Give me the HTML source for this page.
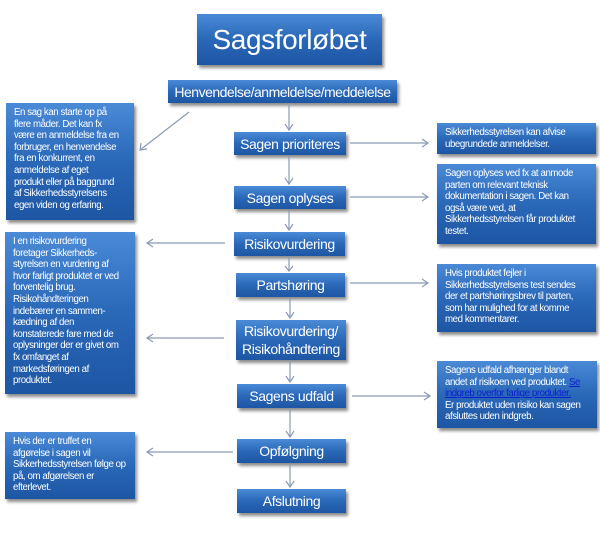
<!DOCTYPE html>
<html><head><meta charset="utf-8"><style>
body{margin:0;width:600px;height:533px;background:#fff;position:relative;overflow:hidden;font-family:"Liberation Sans",sans-serif;}
.b{position:absolute;background:linear-gradient(#4a8ad6,#2a68b8 50%,#1d56a3);color:#fff;box-shadow:2px 3px 3px rgba(0,0,0,.45);box-sizing:border-box;}
.c{display:flex;align-items:center;justify-content:center;text-align:center;font-size:14px;letter-spacing:-0.4px;white-space:nowrap;}
.t{font-size:9.7px;line-height:11.6px;padding:4px 2px 0 8px;letter-spacing:-0.42px;white-space:nowrap;}
a{color:#0b1fd0;text-decoration:underline;}
svg{position:absolute;left:0;top:0;}
</style></head><body>
<div class="b c" style="left:197px;top:14px;width:185px;height:51px;font-size:28px;">Sagsforløbet</div>
<div class="b c" style="left:168px;top:80px;width:229px;height:23px;font-size:14px;letter-spacing:-0.5px;">Henvendelse/anmeldelse/meddelelse</div>
<div class="b c" style="left:234px;top:132px;width:112px;height:23px;">Sagen prioriteres</div>
<div class="b c" style="left:234px;top:186px;width:112px;height:23px;">Sagen oplyses</div>
<div class="b c" style="left:234px;top:232px;width:111px;height:24px;">Risikovurdering</div>
<div class="b c" style="left:236px;top:273px;width:109px;height:24px;">Partshøring</div>
<div class="b c" style="left:236px;top:320px;width:110px;height:40px;line-height:18px;">Risikovurdering/<br>Risikohåndtering</div>
<div class="b c" style="left:237px;top:384px;width:109px;height:24px;">Sagens udfald</div>
<div class="b c" style="left:237px;top:439px;width:109px;height:24px;">Opfølgning</div>
<div class="b c" style="left:237px;top:489px;width:109px;height:24px;">Afslutning</div>

<div class="b t" style="left:6px;top:103px;width:128px;height:117px;">En sag kan starte op på<br>flere måder.  Det kan fx<br>være en anmeldelse fra en<br>forbruger, en henvendelse<br>fra en konkurrent, en<br>anmeldelse af eget<br>produkt eller på baggrund<br>af Sikkerhedsstyrelsens<br>egen viden og erfaring.</div>
<div class="b t" style="left:5px;top:232px;width:130px;height:162px;">I en risikovurdering<br>foretager Sikkerheds-<br>styrelsen en vurdering af<br>hvor farligt produktet er ved<br>forventelig brug.<br>Risikohåndteringen<br>indebærer en sammen-<br>kædning af den<br>konstaterede fare med de<br>oplysninger der er givet om<br>fx omfanget af<br>markedsføringen af<br>produktet.</div>
<div class="b t" style="left:5px;top:432px;width:130px;height:67px;">Hvis der er truffet en<br>afgørelse i sagen vil<br>Sikkerhedsstyrelsen følge op<br>på, om afgørelsen er<br>efterlevet.</div>

<div class="b t" style="left:437px;top:123px;width:159px;height:31px;">Sikkerhedsstyrelsen kan afvise<br>ubegrundede anmeldelser.</div>
<div class="b t" style="left:437px;top:164px;width:159px;height:80px;">Sagen oplyses ved fx at anmode<br>parten om relevant teknisk<br>dokumentation  i sagen. Det kan<br>også være ved, at<br>Sikkerhedsstyrelsen får produktet<br>testet.</div>
<div class="b t" style="left:437px;top:264px;width:159px;height:68px;">Hvis produktet fejler i<br>Sikkerhedsstyrelsens test sendes<br>der et partshøringsbrev til parten,<br>som har mulighed for at komme<br>med kommentarer.</div>
<div class="b t" style="left:437px;top:361px;width:160px;height:67px;">Sagens udfald afhænger blandt<br>andet af risikoen ved produktet. <a>Se</a><br><a>indgreb overfor farlige produkter.</a><br>Er produktet uden risiko kan sagen<br>afsluttes uden indgreb.</div>

<svg width="600" height="533" viewBox="0 0 600 533" fill="none" stroke="#8a9bb5" stroke-width="1.2">
<g>
<line x1="289" y1="105" x2="289" y2="130"/><polyline points="285,124 289,130 293,124"/>
<line x1="289" y1="156" x2="289" y2="184"/><polyline points="285,178 289,184 293,178"/>
<line x1="289" y1="210" x2="289" y2="230"/><polyline points="285,224 289,230 293,224"/>
<line x1="289" y1="257" x2="289" y2="271"/><polyline points="285,266 289,271 293,266"/>
<line x1="290" y1="298" x2="290" y2="318"/><polyline points="286,312 290,318 294,312"/>
<line x1="290" y1="361" x2="290" y2="382"/><polyline points="286,376 290,382 294,376"/>
<line x1="290" y1="409" x2="290" y2="437"/><polyline points="286,431 290,437 294,431"/>
<line x1="290" y1="464" x2="290" y2="487"/><polyline points="286,481 290,487 294,481"/>
<line x1="189" y1="112" x2="140" y2="150"/><polyline points="141,143 140,150 147,149"/>
<line x1="350" y1="143" x2="428" y2="143"/><polyline points="422,139 428,143 422,147"/>
<line x1="350" y1="197" x2="428" y2="197"/><polyline points="422,193 428,197 422,201"/>
<line x1="350" y1="283" x2="428" y2="283"/><polyline points="422,279 428,283 422,287"/>
<line x1="352" y1="396" x2="430" y2="396"/><polyline points="424,392 430,396 424,400"/>
<line x1="225" y1="243" x2="147" y2="243"/><polyline points="153,239 147,243 153,247"/>
<line x1="224" y1="338" x2="147" y2="338"/><polyline points="153,334 147,338 153,342"/>
<line x1="233" y1="452" x2="147" y2="452"/><polyline points="153,448 147,452 153,456"/>
</g></svg>
</body></html>
